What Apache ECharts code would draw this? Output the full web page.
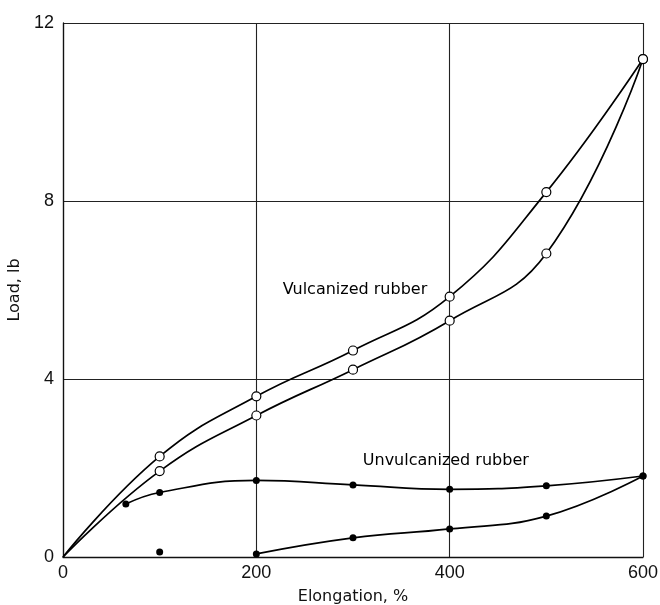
<!DOCTYPE html>
<html>
<head>
<meta charset="utf-8">
<script src="https://cdn.jsdelivr.net/npm/echarts@6/dist/echarts.min.js"></script>
<style>html,body{margin:0;padding:0;background:#fff;}#c{width:660px;height:605px;}</style>
</head>
<body>
<div id="c"></div>
<script>
// Vulcanized rubber (open circles): loading (upper) and unloading (lower)
const vulcLoadX = [0, 100, 200, 300, 400, 500, 600];
const vulcLoadY = [0, 2.26, 3.61, 4.64, 5.85, 8.2, 11.19];
const vulcUnloadX = [0, 100, 200, 300, 400, 500, 600];
const vulcUnloadY = [0, 1.93, 3.18, 4.21, 5.31, 6.82, 11.19];
// Unvulcanized rubber (filled dots)
const unvLoadX = [65, 100, 200, 300, 400, 500, 600];
const unvLoadY = [1.19, 1.45, 1.72, 1.62, 1.52, 1.6, 1.82];
const unvUnloadX = [200, 300, 400, 500, 600];
const unvUnloadY = [0.07, 0.43, 0.63, 0.92, 1.82];
const strayX = [100];
const strayY = [0.11];
// Tick labels
const xTicks = [0, 200, 400, 600];
const yTicks = [0, 4, 8, 12];
// Curve annotations
const noteText = ['Vulcanized rubber', 'Unvulcanized rubber'];
const noteX = [302, 396];
const noteY = [6.0, 2.15];

const FONT = 'Liberation Sans, Arial, sans-serif';
const WIDE = 'DejaVu Sans, sans-serif';
function pts(xs, ys, hideFirstAtOrigin) {
  return xs.map((x, i) => {
    if (hideFirstAtOrigin && x === 0 && ys[i] === 0) return { value: [x, ys[i]], symbol: 'none' };
    return [x, ys[i]];
  });
}
const openStyle = { color: '#fff', borderColor: '#000', borderWidth: 1.2 };
const lineStyle = { color: '#000', width: 1.7 };
const SM = 0.45;

const chart = echarts.init(document.getElementById('c'), null, { renderer: 'canvas' });
chart.setOption({
  animation: false,
  backgroundColor: '#fff',
  grid: { left: 63, right: 17, top: 23, bottom: 48, show: false, containLabel: false, outerBoundsMode: 'none' },
  xAxis: {
    type: 'value', min: xTicks[0], max: xTicks[xTicks.length - 1], interval: 200,
    name: 'Elongation, %', nameLocation: 'middle', nameGap: 32,
    nameTextStyle: { fontFamily: WIDE, fontSize: 16, color: '#111' },
    axisLine: { show: true, lineStyle: { color: '#111', width: 1.3 } },
    axisTick: { show: false },
    axisLabel: { fontFamily: FONT, fontSize: 18, color: '#111', margin: 7 },
    splitLine: { show: true, lineStyle: { color: '#222', width: 1.1 } }
  },
  yAxis: {
    type: 'value', min: yTicks[0], max: yTicks[yTicks.length - 1], interval: 4,
    name: 'Load, lb', nameLocation: 'middle', nameGap: 36,
    nameTextStyle: { fontFamily: WIDE, fontSize: 16, color: '#111' },
    axisLine: { show: true, lineStyle: { color: '#111', width: 1.3 } },
    axisTick: { show: false },
    axisLabel: { fontFamily: FONT, fontSize: 18, color: '#111', margin: 9 },
    splitLine: { show: true, lineStyle: { color: '#222', width: 1.1 } }
  },
  series: [
    { type: 'line', data: pts(vulcLoadX, vulcLoadY, true), smooth: SM, symbol: 'circle', symbolSize: 9,
      itemStyle: openStyle, lineStyle: lineStyle, z: 3 },
    { type: 'line', data: pts(vulcUnloadX, vulcUnloadY, true), smooth: SM, symbol: 'circle', symbolSize: 9,
      itemStyle: openStyle, lineStyle: lineStyle, z: 3 },
    { type: 'line', data: pts(unvLoadX, unvLoadY, false), smooth: SM, symbol: 'circle', symbolSize: 7,
      itemStyle: { color: '#000' }, lineStyle: lineStyle, z: 3 },
    { type: 'line', data: pts(unvUnloadX, unvUnloadY, false), smooth: SM, symbol: 'circle', symbolSize: 7,
      itemStyle: { color: '#000' }, lineStyle: lineStyle, z: 3 },
    { type: 'scatter', data: pts(strayX, strayY, false), symbol: 'circle', symbolSize: 7,
      itemStyle: { color: '#000', opacity: 1 }, z: 3 },
    { type: 'scatter', symbolSize: 0, silent: true, z: 4, itemStyle: { opacity: 1 },
      data: noteText.map((t, i) => ({ value: [noteX[i], noteY[i]], name: t })),
      label: { show: true, position: 'inside', formatter: p => p.name, opacity: 1,
               fontFamily: WIDE, fontSize: 16, color: '#000' } }
  ]
});
</script>
</body>
</html>
